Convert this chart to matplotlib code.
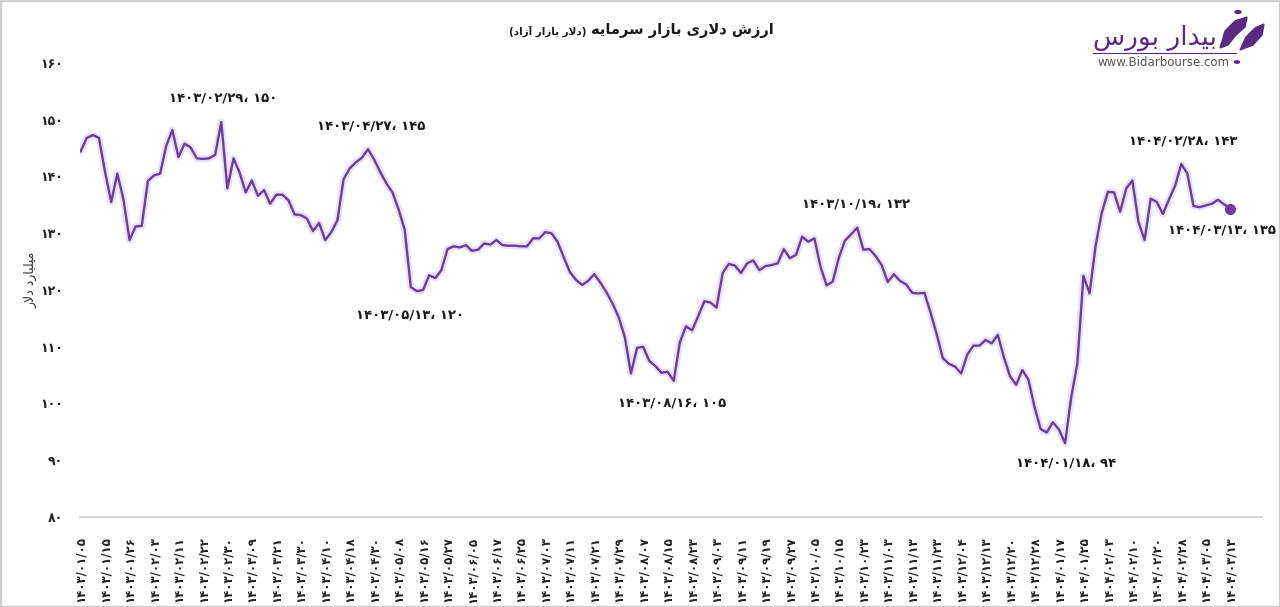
import matplotlib
matplotlib.use('Agg')
import matplotlib.pyplot as plt
import matplotlib.patheffects as pe
from matplotlib.patches import Rectangle, Polygon, Circle
import numpy as np

plt.rcParams['font.family'] = ['DejaVu Sans']

# ---------------- data (میلیارد دلار)
tick_dates = [
    '1403/01/05', '1403/01/15', '1403/01/26', '1403/02/03', '1403/02/11', '1403/02/22',
    '1403/02/30', '1403/03/09', '1403/03/21', '1403/03/30', '1403/04/10', '1403/04/18',
    '1403/04/30', '1403/05/08', '1403/05/16', '1403/05/27', '1403/06/05', '1403/06/17',
    '1403/06/25', '1403/07/03', '1403/07/11', '1403/07/21', '1403/07/29', '1403/08/07',
    '1403/08/15', '1403/08/23', '1403/09/03', '1403/09/11', '1403/09/19', '1403/09/27',
    '1403/10/05', '1403/10/15', '1403/10/23', '1403/11/03', '1403/11/13', '1403/11/23',
    '1403/12/04', '1403/12/13', '1403/12/20', '1403/12/28', '1404/01/17', '1404/01/25',
    '1404/02/03', '1404/02/10', '1404/02/20', '1404/02/28', '1404/03/05', '1404/03/13',
]
points_per_tick = 4

values = [
    144.4, 146.8, 147.3, 146.8, 140.8, 135.5, 140.5, 136.0, 128.8, 131.2,
    131.3, 139.2, 140.2, 140.5, 145.4, 148.2, 143.4, 145.8, 145.1, 143.2,
    143.1, 143.2, 143.8, 149.6, 137.9, 143.2, 140.7, 137.2, 139.3, 136.6,
    137.6, 135.2, 136.8, 136.8, 135.8, 133.3, 133.2, 132.6, 130.4, 131.8,
    128.8, 130.2, 132.3, 139.5, 141.4, 142.5, 143.3, 144.8, 143.0, 140.8,
    138.8, 137.2, 134.2, 130.6, 120.5, 119.8, 120.0, 122.6, 122.1, 123.5,
    127.2, 127.7, 127.5, 127.9, 126.9, 127.1, 128.2, 128.0, 128.8, 127.9,
    127.8, 127.8, 127.7, 127.7, 129.1, 129.1, 130.2, 130.0, 128.5, 125.8,
    123.2, 121.8, 120.9, 121.6, 122.8, 121.3, 119.6, 117.6, 115.2, 111.7,
    105.3, 109.8, 110.0, 107.5, 106.6, 105.4, 105.6, 104.0, 110.8, 113.6,
    112.9, 115.4, 118.0, 117.8, 116.9, 123.0, 124.6, 124.3, 123.0, 124.7,
    125.2, 123.5, 124.2, 124.4, 124.7, 127.2, 125.6, 126.2, 129.4, 128.5,
    129.1, 124.1, 120.8, 121.5, 125.7, 128.7, 129.8, 131.0, 127.1, 127.2,
    126.0, 124.4, 121.4, 122.8, 121.6, 121.0, 119.5, 119.4, 119.5, 116.0,
    112.2, 108.0, 107.0, 106.5, 105.3, 108.6, 110.2, 110.2, 111.2, 110.6,
    112.1, 108.1, 104.8, 103.3, 105.9, 104.2, 99.4, 95.5, 94.9, 96.7,
    95.4, 93.0, 101.1, 107.0, 122.5, 119.4, 127.9, 133.6, 137.3, 137.2,
    133.8, 137.9, 139.3, 132.0, 128.8, 136.1, 135.5, 133.4, 136.0, 138.4,
    142.2, 140.5, 134.8, 134.6, 134.9, 135.2, 135.9, 135.1, 134.3,
]

# (index, date, value shown, offset in pixels)
notes = [
    (23, '1403/02/29', 150, (2, 24)),
    (47, '1403/04/27', 145, (3, 23)),
    (55, '1403/05/13', 120, (-7, -24)),
    (97, '1403/08/16', 105, (-2, -22)),
    (127, '1403/10/19', 132, (-1, 24)),
    (161, '1404/01/18', 94, (1, -20)),
    (180, '1404/02/28', 143, (2, 23)),
    (188, '1404/03/13', 135, (-8, -21)),
]

LINE = '#6a3d9f'
PURPLE = '#5b2b83'

# ---------------- persian helpers
FA_DIGITS = str.maketrans('0123456789', '۰۱۲۳۴۵۶۷۸۹')


def fa(s):
    return str(s).translate(FA_DIGITS)


# isolated, final, initial, medial
FORMS = {
    'ا': ('\uFE8D', '\uFE8E', None, None),
    'آ': ('\uFE81', '\uFE82', None, None),
    'ب': ('\uFE8F', '\uFE90', '\uFE91', '\uFE92'),
    'د': ('\uFEA9', '\uFEAA', None, None),
    'ر': ('\uFEAD', '\uFEAE', None, None),
    'ز': ('\uFEAF', '\uFEB0', None, None),
    'س': ('\uFEB1', '\uFEB2', '\uFEB3', '\uFEB4'),
    'ش': ('\uFEB5', '\uFEB6', '\uFEB7', '\uFEB8'),
    'ل': ('\uFEDD', '\uFEDE', '\uFEDF', '\uFEE0'),
    'م': ('\uFEE1', '\uFEE2', '\uFEE3', '\uFEE4'),
    'ه': ('\uFEE9', '\uFEEA', '\uFEEB', '\uFEEC'),
    'و': ('\uFEED', '\uFEEE', None, None),
    'ی': ('\uFEEF', '\uFEF0', '\uFEF3', '\uFEF4'),
}
LAM_ALEF = {'ا': ('\uFEFB', '\uFEFC'), 'آ': ('\uFEF5', '\uFEF6')}


def dual(c):
    return c in FORMS and FORMS[c][2] is not None


def shape(text):
    out = []
    i = 0
    while i < len(text):
        c = text[i]
        if c not in FORMS:
            out.append(c)
            i += 1
            continue
        jp = i > 0 and dual(text[i - 1])
        nxt = text[i + 1] if i + 1 < len(text) else ''
        if c == 'ل' and nxt in LAM_ALEF:
            out.append(LAM_ALEF[nxt][1 if jp else 0])
            i += 2
            continue
        jn = dual(c) and nxt in FORMS
        if jp and jn:
            f = FORMS[c][3]
        elif jp:
            f = FORMS[c][1]
        elif jn:
            f = FORMS[c][2]
        else:
            f = FORMS[c][0]
        out.append(f)
        i += 1
    mirror = {'(': ')', ')': '('}
    return ''.join(mirror.get(ch, ch) for ch in reversed(out))


# ---------------- figure
W, H = 1280, 607
fig = plt.figure(figsize=(W / 100, H / 100), dpi=100)


def fx(px):
    return px / W


def fy(py):
    return 1 - py / H


ax = fig.add_axes([fx(80), fy(517), fx(1262) - fx(80), fy(63) - fy(517)])

x = np.arange(len(values))
ax.plot(x, values, color=LINE, lw=1.7, solid_joinstyle='round', solid_capstyle='round',
        path_effects=[pe.Stroke(linewidth=5, foreground='#d9cbef', alpha=0.55), pe.Normal()])
ax.plot(x[-1], values[-1], 'o', color=LINE, ms=7)

ax.set_xlim(-0.1, 193.2)
ax.set_ylim(80, 160)
for s in ['top', 'right', 'left']:
    ax.spines[s].set_visible(False)
ax.spines['bottom'].set_color('#d9d9d9')
ax.spines['bottom'].set_linewidth(1.6)

ax.set_yticks(range(80, 161, 10))
ax.set_yticklabels([fa(v) for v in range(80, 161, 10)], fontsize=9, fontweight='bold', color='#222222')
ax.set_xticks(x[::points_per_tick])
ax.set_xticklabels([fa(d) for d in tick_dates], rotation=90, fontsize=8.5, fontweight='bold', color='#222222')
ax.tick_params(axis='both', length=0)
ax.tick_params(axis='y', pad=12)
ax.tick_params(axis='x', pad=14)

fig.text(fx(31), fy(280), shape('میلیارد دلار'), rotation=90, ha='center', va='center',
         fontsize=9, color='#333333')

for idx, d, v, off in notes:
    ax.annotate(fa(d) + '، ' + fa(v), xy=(idx, values[idx]), xytext=off, textcoords='offset pixels',
                ha='center', va='center', fontsize=9.5, fontweight='bold', color='#1a1a1a')

# title: main part on the right, the note in brackets just left of it
t_main = fig.text(fx(774), fy(30), shape('ارزش دلاری بازار سرمایه'), ha='right', va='center',
                  fontsize=10.5, fontweight='bold', color='#1a1a1a')
renderer = fig.canvas.get_renderer()
left_px = t_main.get_window_extent(renderer).x0
fig.text((left_px - 5) / W, fy(31), shape('(دلار بازار آزاد)'), ha='right', va='center',
         fontsize=7.5, fontweight='bold', color='#1a1a1a')

# logo
fig.text(fx(1217), fy(38), shape('بیدار بورس'), ha='right', va='center',
         fontsize=19, color=PURPLE)
fig.add_artist(plt.Line2D([fx(1093), fx(1236)], [fy(53), fy(53)], color=PURPLE, lw=0.8))
fig.text(fx(1230), fy(62), 'www.Bidarbourse.com', ha='right', va='center', fontsize=8.5, color='#555555')
fig.add_artist(Circle((fx(1237), fy(62)), 2.5 / W, color=PURPLE, transform=fig.transFigure))
leaf1 = [(1220, 48), (1225, 31), (1235, 21), (1247, 17), (1245, 27), (1236, 35), (1228, 45)]
leaf2 = [(1240, 50), (1246, 37), (1255, 28), (1264, 24), (1262, 35), (1253, 45)]
for leaf in (leaf1, leaf2):
    fig.add_artist(Polygon([(fx(a), fy(b)) for a, b in leaf], closed=True, color=PURPLE,
                           transform=fig.transFigure))
fig.add_artist(Circle((fx(1238), fy(12)), 3 / W, color=PURPLE, transform=fig.transFigure))

# outer frame
fig.add_artist(Rectangle((0, 0), 1, 1, transform=fig.transFigure, fill=False,
                         edgecolor='#d0d0d0', lw=2.5))

fig.savefig('out.png', dpi=100)
